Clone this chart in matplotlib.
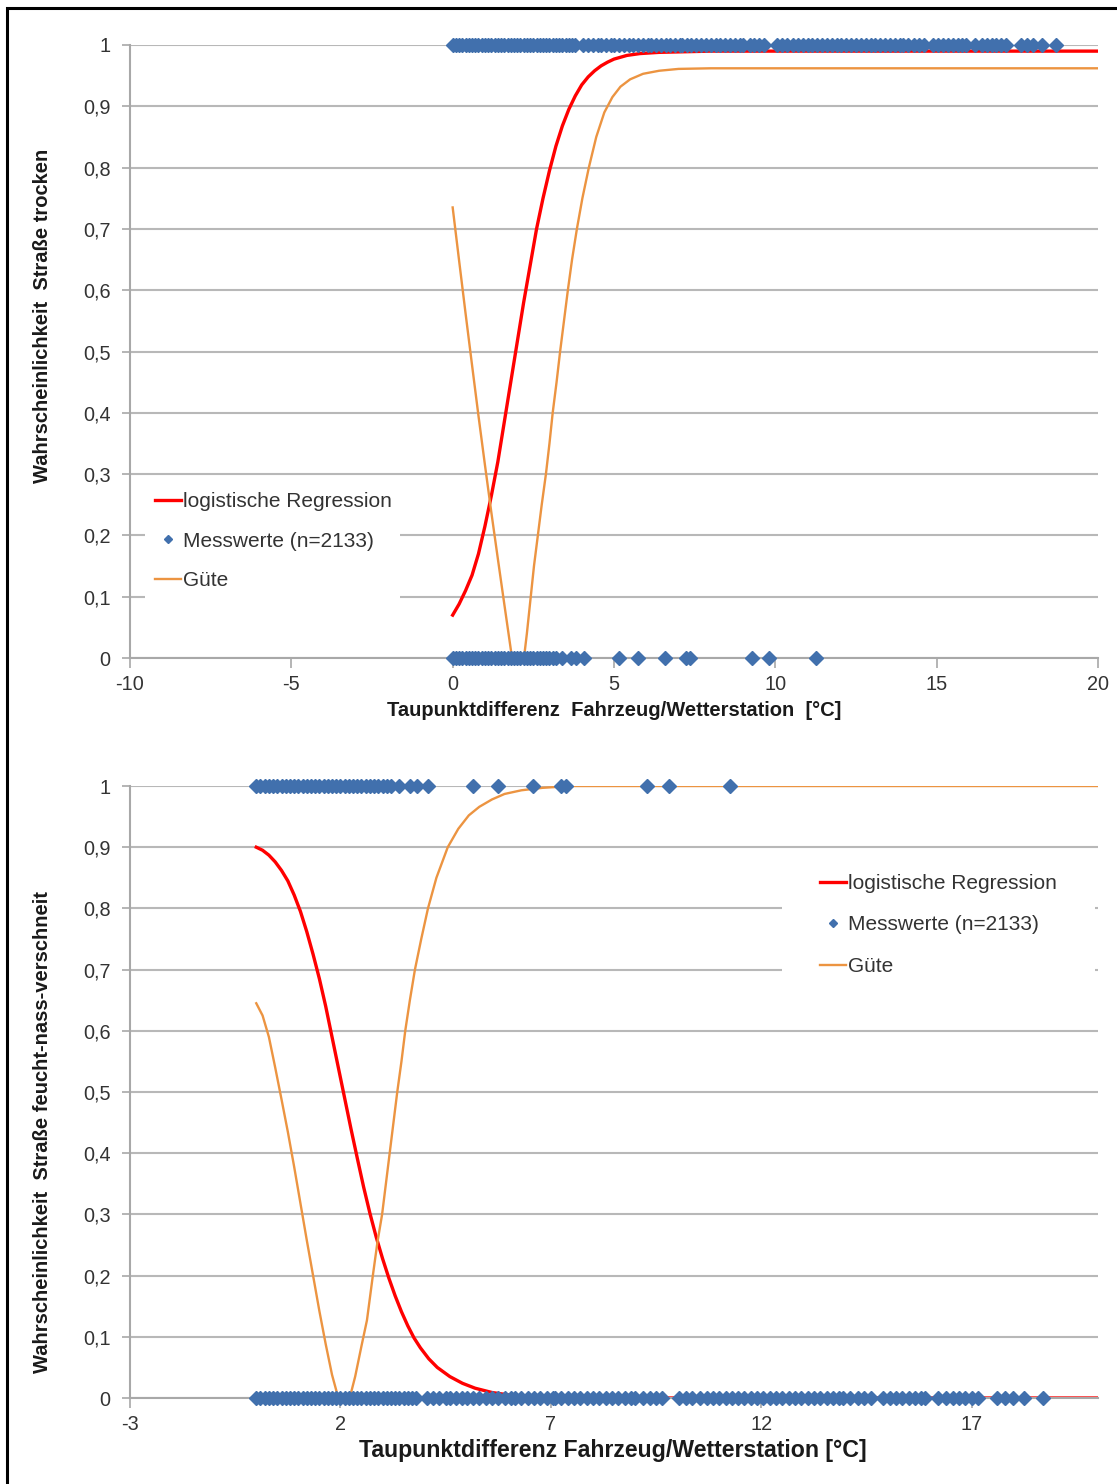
import matplotlib
matplotlib.use("Agg")
import matplotlib.pyplot as plt
from matplotlib.patches import Rectangle
from matplotlib.lines import Line2D

plt.rcParams["font.family"] = ["Liberation Sans", "DejaVu Sans"]

W, H = 1117, 1484

# --- observations: dew point difference vehicle/weather station [°C] ---
# road dry
dry_x = [0.0, 0.1, 0.2, 0.3, 0.4, 0.5, 0.6, 0.7, 0.8, 0.9, 1.0, 1.1, 1.2, 1.3,
         1.4, 1.5, 1.6, 1.7, 1.8, 1.9, 2.0, 2.1, 2.2, 2.3, 2.4, 2.5, 2.6, 2.7,
         2.8, 2.9, 3.0, 3.1, 3.2, 3.3, 3.4, 3.5, 3.6, 3.7, 3.8,
         4.05, 4.2, 4.35, 4.5, 4.6, 4.75, 4.9, 5.0, 5.15, 5.3, 5.45, 5.6, 5.75,
         5.9, 6.05, 6.15, 6.3, 6.45, 6.6, 6.75, 6.9, 7.05,
         7.1, 7.25, 7.4, 7.55, 7.7, 7.85, 8.0, 8.15, 8.3, 8.45, 8.6, 8.75, 8.9, 9.0,
         9.2, 9.35, 9.5, 9.65,
         10.05, 10.2, 10.35, 10.55,
         10.7, 10.85, 11.0, 11.15, 11.3, 11.45, 11.6, 11.75, 11.9, 12.05, 12.2,
         12.35, 12.5, 12.65,
         12.8, 12.95, 13.1, 13.25, 13.4, 13.55, 13.7, 13.85, 13.95,
         14.1, 14.3, 14.45, 14.6,
         14.9, 15.05, 15.2, 15.35, 15.5, 15.65, 15.8, 15.9,
         16.2, 16.4,
         16.55, 16.7, 16.85, 17.0, 17.15,
         17.6, 17.8, 17.98,
         18.25, 18.7]
# road damp / wet / snowy
wet_x = [0.0, 0.1, 0.2, 0.3, 0.4, 0.5, 0.6, 0.7, 0.8, 0.9, 1.0, 1.1, 1.2, 1.3,
         1.4, 1.5, 1.6, 1.7, 1.8, 1.9, 2.0, 2.1, 2.2, 2.3, 2.4, 2.5, 2.6, 2.7,
         2.8, 2.9, 3.0, 3.1, 3.2,
         3.4, 3.66, 3.82, 4.07, 5.14, 5.74, 6.57, 7.23, 7.37, 9.28, 9.8, 11.26]

# --- logistic regression & quality, road dry ---
reg_dry_x = [0.0, 0.2, 0.4, 0.6, 0.8, 1.0, 1.2, 1.4, 1.6, 1.8, 2.0, 2.2, 2.4,
             2.6, 2.8, 3.0, 3.2, 3.4, 3.6, 3.8, 4.0, 4.2, 4.4, 4.6, 4.8, 5.0,
             5.4, 5.8, 6.4, 7.2, 8.0, 20.0]
reg_dry_y = [0.07, 0.088, 0.11, 0.135, 0.17, 0.215, 0.265, 0.32, 0.385, 0.45,
             0.515, 0.58, 0.64, 0.70, 0.75, 0.795, 0.835, 0.868, 0.895, 0.917,
             0.935, 0.948, 0.958, 0.966, 0.972, 0.977, 0.983, 0.986, 0.988,
             0.989, 0.99, 0.99]
gute_dry_x = [0.0, 0.2, 0.4, 0.6, 0.8, 1.0, 1.2, 1.4, 1.6, 1.84, 2.21, 2.3,
              2.4, 2.52, 2.64, 2.76, 2.89, 3.0, 3.1, 3.22, 3.33, 3.45, 3.57,
              3.7, 3.85, 4.02, 4.22, 4.45, 4.7, 4.95, 5.2, 5.5, 5.9, 6.4, 7.0,
              8.0, 20.0]
gute_dry_y = [0.735, 0.648, 0.562, 0.478, 0.395, 0.315, 0.237, 0.162, 0.088,
              0.0, 0.0, 0.04, 0.09, 0.15, 0.2, 0.25, 0.3, 0.35, 0.4, 0.45, 0.5,
              0.55, 0.6, 0.65, 0.7, 0.75, 0.8, 0.85, 0.89, 0.915, 0.932, 0.944,
              0.953, 0.958, 0.961, 0.962, 0.962]

# --- logistic regression & quality, road damp/wet/snowy ---
reg_wet_x = [0.0, 0.15, 0.3, 0.45, 0.6, 0.75, 0.9, 1.05, 1.2, 1.35, 1.5, 1.65,
             1.8, 1.95, 2.1, 2.25, 2.4, 2.55, 2.7, 2.85, 3.0, 3.15, 3.3, 3.45,
             3.6, 3.75, 3.9, 4.1, 4.3, 4.6, 4.9, 5.2, 5.6, 6.0, 6.6, 7.5, 20.0]
reg_wet_y = [0.90, 0.895, 0.887, 0.876, 0.862, 0.845, 0.822, 0.795, 0.762,
             0.725, 0.685, 0.64, 0.59, 0.54, 0.49, 0.44, 0.392, 0.345, 0.302,
             0.263, 0.228, 0.196, 0.167, 0.141, 0.118, 0.098, 0.082, 0.064,
             0.05, 0.035, 0.024, 0.016, 0.009, 0.005, 0.002, 0.0, 0.0]
gute_wet_x = [0.0, 0.15, 0.3, 0.45, 0.6, 0.75, 0.9, 1.05, 1.2, 1.35, 1.5, 1.65,
              1.8, 1.95, 2.22, 2.35, 2.5, 2.63, 2.77, 2.88, 2.99, 3.08, 3.17,
              3.26, 3.35, 3.45, 3.54, 3.65, 3.77, 3.92, 4.08, 4.28, 4.55, 4.8,
              5.05, 5.3, 5.6, 5.9, 6.3, 6.8, 7.5, 20.0]
gute_wet_y = [0.645, 0.625, 0.59, 0.54, 0.488, 0.435, 0.378, 0.318, 0.258, 0.2,
              0.142, 0.088, 0.038, 0.0, 0.0, 0.035, 0.085, 0.127, 0.2, 0.255,
              0.3, 0.35, 0.4, 0.45, 0.5, 0.55, 0.6, 0.65, 0.7, 0.75, 0.8, 0.85,
              0.9, 0.93, 0.952, 0.966, 0.978, 0.987, 0.993, 0.997, 1.0, 1.0]

# --- axes ticks and labels ---
y_ticks = [0, 0.1, 0.2, 0.3, 0.4, 0.5, 0.6, 0.7, 0.8, 0.9, 1.0]
y_ticklabels = ["0", "0,1", "0,2", "0,3", "0,4", "0,5", "0,6", "0,7", "0,8",
                "0,9", "1"]
x_ticks_dry = [-10, -5, 0, 5, 10, 15, 20]
x_ticks_wet = [-3, 2, 7, 12, 17]
legend_labels = ["logistische Regression", "Messwerte (n=2133)", "Güte"]

RED = "#FF0000"
ORANGE = "#EC9441"
BLUE = "#4170AD"
GRID = "#b8b8b8"
SPINE = "#a8a8a8"
TXT = "#333333"
MS = 7.6

fig = plt.figure(figsize=(W / 100, H / 100), dpi=100)
fig.patch.set_facecolor("white")


def px_axes(x0, y0, x1, y1):
    return fig.add_axes([x0 / W, 1 - y1 / H, (x1 - x0) / W, (y1 - y0) / H])


def style(ax, xlim, xticks):
    ax.set_xlim(*xlim)
    ax.set_ylim(0, 1)
    ax.set_xticks(xticks)
    ax.set_xticklabels([str(t) for t in xticks])
    ax.set_yticks(y_ticks)
    ax.set_yticklabels(y_ticklabels)
    for s in ("top", "right"):
        ax.spines[s].set_visible(False)
    for s in ("left", "bottom"):
        ax.spines[s].set_color(SPINE)
        ax.spines[s].set_linewidth(1.5)
    ax.yaxis.grid(True, color=GRID, lw=1.5)
    ax.set_axisbelow(True)
    ax.tick_params(axis="y", direction="out", length=6, width=1.2, color=SPINE,
                   labelsize=14.3, labelcolor=TXT, pad=8)
    ax.tick_params(axis="x", direction="out", length=7, width=1.2, color=SPINE,
                   labelsize=14.3, labelcolor=TXT, pad=5)


def legend_box(ax, x0, y0, x1, y1, anchor, spacing):
    ax.add_patch(Rectangle((x0 / W, 1 - y1 / H), (x1 - x0) / W, (y1 - y0) / H,
                           transform=fig.transFigure, facecolor="white",
                           edgecolor="none", zorder=1.5))
    handles = [Line2D([], [], color=RED, lw=2.4),
               Line2D([], [], ls="none", marker="D", ms=4.5, color=BLUE),
               Line2D([], [], color=ORANGE, lw=1.7)]
    ax.legend(handles, legend_labels, loc="upper left",
              bbox_to_anchor=(anchor[0] / W, 1 - anchor[1] / H),
              bbox_transform=fig.transFigure, frameon=False, fontsize=15,
              handlelength=1.25, handletextpad=0.1, labelspacing=spacing,
              borderpad=0, borderaxespad=0, labelcolor=TXT)


# ---------- upper chart: road dry ----------
ax1 = px_axes(130, 45, 1098, 658)
style(ax1, (-10, 20), x_ticks_dry)
ax1.plot(reg_dry_x, reg_dry_y, color=RED, lw=2.4, zorder=2)
ax1.plot(gute_dry_x, gute_dry_y, color=ORANGE, lw=1.7, zorder=2)
ax1.plot(dry_x, [1] * len(dry_x), "D", ms=MS, color=BLUE, clip_on=False,
         zorder=3)
ax1.plot(wet_x, [0] * len(wet_x), "D", ms=MS, color=BLUE, clip_on=False,
         zorder=3)
legend_box(ax1, 145, 482, 400, 608, (155, 492), 0.99)
fig.text(614 / W, 1 - 710 / H,
         "Taupunktdifferenz  Fahrzeug/Wetterstation  [°C]",
         ha="center", va="center", fontsize=14.5, fontweight="bold",
         color="#1a1a1a")
fig.text(43 / W, 1 - 316 / H, "Wahrscheinlichkeit  Straße trocken",
         rotation=90, ha="center", va="center", fontsize=14.5,
         fontweight="bold", color="#1a1a1a")

# ---------- lower chart: road damp / wet / snowy ----------
ax2 = px_axes(130, 786, 1098, 1398)
style(ax2, (-3, 20), x_ticks_wet)
ax2.plot(reg_wet_x, reg_wet_y, color=RED, lw=2.4, zorder=2)
ax2.plot(gute_wet_x, gute_wet_y, color=ORANGE, lw=1.7, zorder=2)
ax2.plot(wet_x, [1] * len(wet_x), "D", ms=MS, color=BLUE, clip_on=False,
         zorder=3)
ax2.plot(dry_x, [0] * len(dry_x), "D", ms=MS, color=BLUE, clip_on=False,
         zorder=3)
legend_box(ax2, 782, 862, 1095, 1000, (820, 874), 1.08)
fig.text(613 / W, 1 - 1451 / H,
         "Taupunktdifferenz Fahrzeug/Wetterstation [°C]",
         ha="center", va="center", fontsize=16.7, fontweight="bold",
         color="#1a1a1a")
fig.text(43 / W, 1 - 1132 / H,
         "Wahrscheinlichkeit  Straße feucht-nass-verschneit",
         rotation=90, ha="center", va="center", fontsize=14.5,
         fontweight="bold", color="#1a1a1a")

# outer frame (left and top edges visible)
fig.add_artist(Rectangle((7 / W, -0.05), 1.2, 1.05 - 8 / H,
                         transform=fig.transFigure, fill=False,
                         edgecolor="black", lw=2.2))

fig.savefig("out.png", dpi=100)
